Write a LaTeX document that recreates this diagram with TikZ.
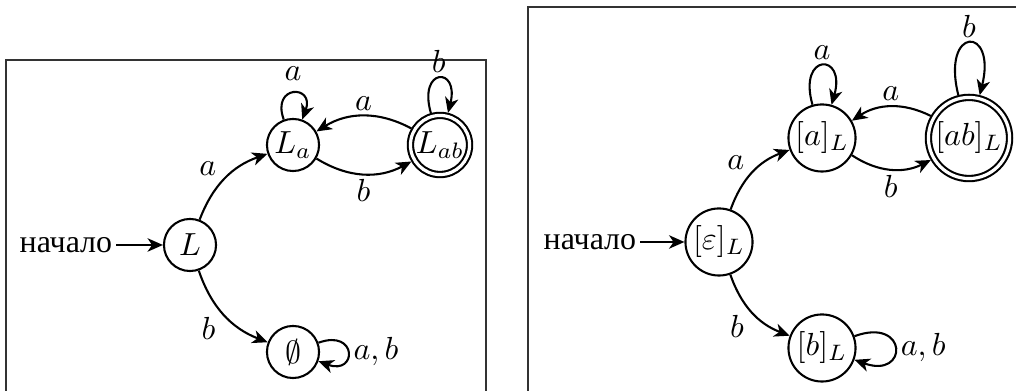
\documentclass[tikz,border=0pt]{standalone}
\usepackage{fontspec}
\newfontfamily\rufont{Liberation Serif}
\usetikzlibrary{arrows.meta}
\tikzset{
  panel/.style={draw=black!80, line width=0.4pt},
  state/.style={circle, draw, line width=0.65pt, inner sep=0pt, minimum size=16.3pt},
  bigstate/.style={circle, draw, line width=0.65pt, inner sep=0.5pt, minimum size=21pt},
  accept/.style={double, double distance=1pt, outer sep=1.1pt},
  initlabel/.style={font=\rufont, inner sep=1pt},
  trans/.style={-{Stealth[length=4.8pt, width=4.2pt, inset=1.4pt]}, line width=0.65pt},
  lbl/.style={inner sep=1.5pt},
}
\begin{document}
\begin{tikzpicture}[x=0.011cm, y=0.011cm]
  \clip (0,0) rectangle (1016,391);
  % frames
  \draw[panel] (6,331) rectangle (486,-20);
  \draw[panel] (528,384) rectangle (1040,-20);

  % left automaton
  \node[state] (L) at (190,146) {$L$};
  \node[state] (La) at (293,246) {$L_a$};
  \node[state, accept, minimum size=18.5pt] (Lab) at (440,246) {$L_{ab}$};
  \node[state] (E) at (293,39) {$\emptyset$};
  \node[initlabel, anchor=east] (start) at (116,146) {начало};

  \draw[trans] (start) -- (L);
  \draw[trans] (L) to[bend left=25] node[lbl, above left, pos=0.45]{$a$} (La);
  \draw[trans] (L) to[bend right=25] node[lbl, below left, pos=0.45]{$b$} (E);
  \draw[trans] (La) to[bend right=30] node[lbl, below]{$b$} (Lab);
  \draw[trans] (Lab) to[bend right=30] node[lbl, above]{$a$} (La);
  \draw[trans] (La) to[out=110, in=70, min distance=11.7pt] node[lbl, above=2pt]{$a$} (La);
  \draw[trans] (Lab) to[out=106, in=76, min distance=15pt] node[lbl, above=0pt]{$b$} (Lab);
  \draw[trans] (E) to[out=20, in=-20, min distance=13pt] node[lbl, right]{$a, b$} (E);

  % right automaton
  \node[bigstate] (e) at (719,149) {$[\varepsilon]_L$};
  \node[bigstate] (a) at (822,253) {$[a]_L$};
  \node[bigstate, accept, minimum size=25.4pt] (ab) at (969,253) {$[ab]_L$};
  \node[bigstate] (b) at (822,43) {$[b]_L$};
  \node[initlabel, anchor=east] (start2) at (640,149) {начало};

  \draw[trans] (start2) -- (e);
  \draw[trans] (e) to[bend left=25] node[lbl, above left, pos=0.45]{$a$} (a);
  \draw[trans] (e) to[bend right=25] node[lbl, below left, pos=0.45]{$b$} (b);
  \draw[trans] (a) to[bend right=30] node[lbl, below]{$b$} (ab);
  \draw[trans] (ab) to[bend right=30] node[lbl, above]{$a$} (a);
  \draw[trans] (a) to[out=106, in=74, min distance=17pt] node[lbl, above=0pt]{$a$} (a);
  \draw[trans] (ab) to[out=104, in=76, min distance=22.5pt] node[lbl, above=0pt]{$b$} (ab);
  \draw[trans] (b) to[out=20, in=-20, min distance=18pt] node[lbl, right]{$a, b$} (b);
\end{tikzpicture}
\end{document}
